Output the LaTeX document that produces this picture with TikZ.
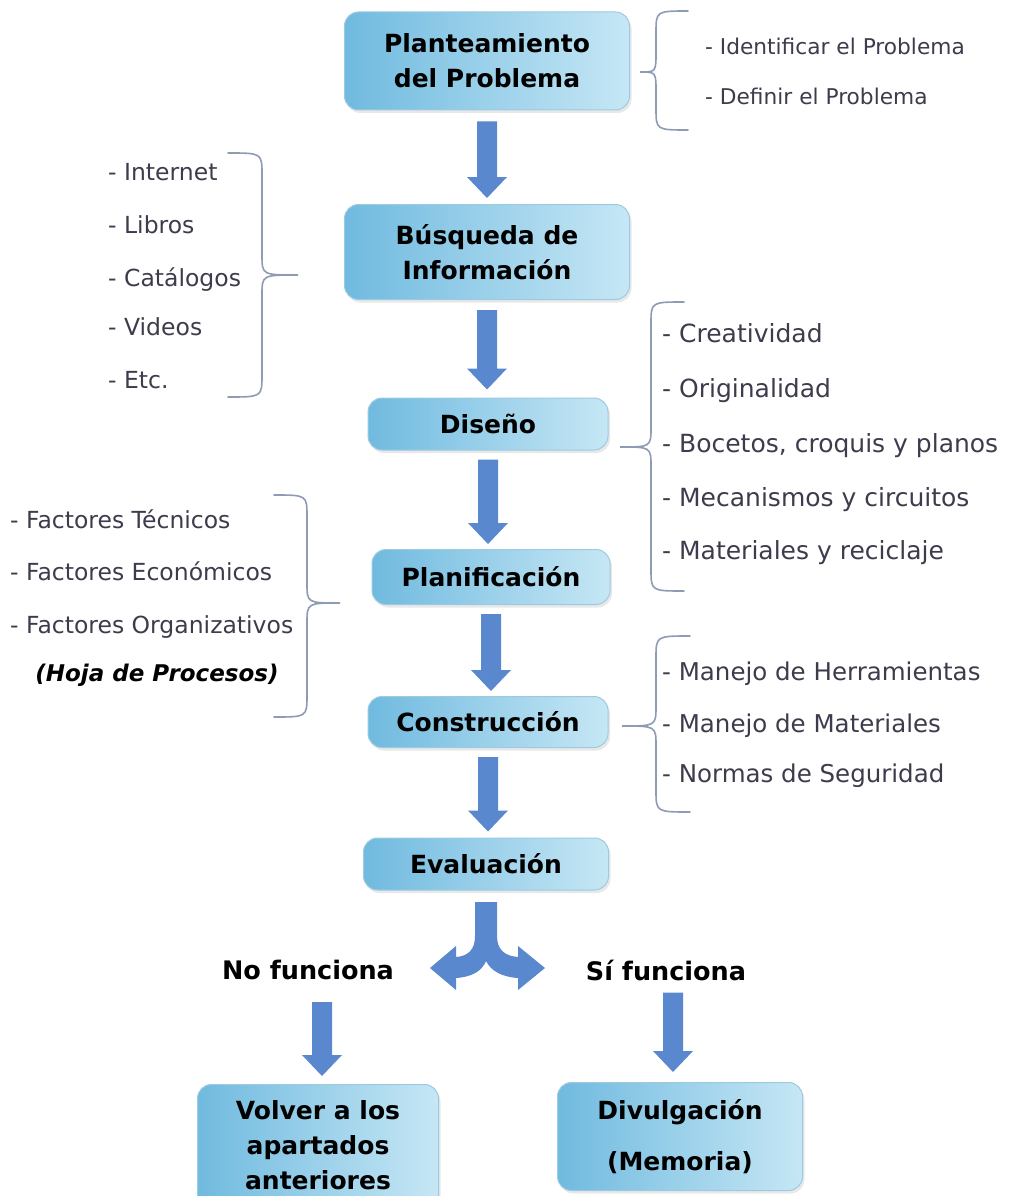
\documentclass[tikz,border=0pt]{standalone}
\usepackage{fontspec}
\setmainfont{DejaVu Sans}
\usetikzlibrary{calc,shadows}
\definecolor{boxL}{HTML}{70BADF}
\definecolor{boxR}{HTML}{C6E7F5}
\definecolor{boxD}{HTML}{9CCBE1}
\definecolor{arrowc}{HTML}{5A88CE}
\definecolor{bracec}{HTML}{8E9BB5}
\definecolor{listc}{HTML}{3E3C4C}
\tikzset{
  stage/.style={rounded corners=14pt, left color=boxL, right color=boxR, draw=boxD,
    line width=1pt, align=center, font=\fontsize{25}{35}\selectfont\bfseries,
    text=black, inner sep=0pt,
    drop shadow={opacity=0.18, shadow xshift=2pt, shadow yshift=-3pt}},
  item/.style={anchor=base west, inner sep=0pt, text=listc},
  brc/.style={draw=bracec, line width=1.6pt, line cap=round},
  blk/.style={fill=arrowc},
  verdict/.style={font=\fontsize{25.5}{30}\selectfont\bfseries, text=black, inner sep=0pt},
}
% brace: tip x, tip y, line x, end x, top y, bottom y
\newcommand\mybrace[6]{%
  \draw[brc] (#4,#5) .. controls (#3,#5) .. (#3,#5+22) -- (#3,#2-20)
    .. controls (#3,#2) .. (#1,#2) .. controls (#3,#2) .. (#3,#2+20)
    -- (#3,#6-22) .. controls (#3,#6) .. (#4,#6);}
% block arrow: from node, to node, gap below from, gap above to
\newcommand\blockarr[4]{%
  \fill[blk] let \p1=($(#1.south)+(0,#3)$), \p2=($(#2.north)+(0,-#4)$) in
    (\x1-10pt,\y1) -- (\x1+10pt,\y1) -- (\x1+10pt,\y2+21pt) -- (\x1+20pt,\y2+21pt)
    -- (\x1,\y2) -- (\x1-20pt,\y2+21pt) -- (\x1-10pt,\y2+21pt) -- cycle;}
\begin{document}
\begin{tikzpicture}[x=1pt,y=-1pt]
\useasboundingbox (0,0) rectangle (1013,1196);
\clip (0,0) rectangle (1013,1196);
\fill[white] (0,0) rectangle (1013,1196);

% stages
\node[stage, minimum width=285pt, minimum height=98pt] (plant) at (487,61) {Planteamiento\\del Problema};
\node[stage, minimum width=285pt, minimum height=95pt] (busq) at (487,252) {Búsqueda de\\Información};
\node[stage, minimum width=240pt, minimum height=52pt] (dis) at (488,424) {Diseño};
\node[stage, minimum width=238pt, minimum height=55pt] (plan) at (491,577) {Planificación};
\node[stage, minimum width=240pt, minimum height=51pt] (cons) at (488,722) {Construcción};
\node[stage, minimum width=245pt, minimum height=52pt] (eval) at (486,864) {Evaluación};
\node[stage, minimum width=241pt, minimum height=125pt, anchor=north] (volver) at (318,1084) {};
\node[verdict, align=center, font=\fontsize{25}{35}\selectfont\bfseries] (voltxt) at (318,1145) {Volver a los\\apartados\\anteriores};
\node[stage, minimum width=245pt, minimum height=108pt, anchor=north] (divul) at (680,1082) {Divulgación\\[16pt](Memoria)};

% verdict labels
\node[verdict] (nof) at (308,970) {No funciona};
\node[verdict] (sif) at (666,970) {Sí funciona};

% arrows
\blockarr{plant}{busq}{11}{6}
\blockarr{busq}{dis}{10}{8}
\blockarr{dis}{plan}{9}{5}
\blockarr{plan}{cons}{9}{5}
\blockarr{cons}{eval}{9}{6}
\fill[blk] let \p1=($(nof.south)+(14,22)$), \p2=($(volver.north)+(0,-8)$) in
    (\x1-10pt,\y1) -- (\x1+10pt,\y1) -- (\x1+10pt,\y2+21pt) -- (\x1+20pt,\y2+21pt)
    -- (\x1,\y2) -- (\x1-20pt,\y2+21pt) -- (\x1-10pt,\y2+21pt) -- cycle;
\fill[blk] let \p1=($(sif.south)+(7,12)$), \p2=($(divul.north)+(0,-10)$) in
    (\x1-10pt,\y1) -- (\x1+10pt,\y1) -- (\x1+10pt,\y2+21pt) -- (\x1+20pt,\y2+21pt)
    -- (\x1,\y2) -- (\x1-20pt,\y2+21pt) -- (\x1-10pt,\y2+21pt) -- cycle;

% split arrow below Evaluación
\coordinate (split) at ($(eval.south)+(0,10)$);
\fill[blk] (475,902) -- (475,936) .. controls (475,950) and (468,956) .. (456,957)
  -- (456,946) -- (430,968) -- (456,990) -- (456,978)
  .. controls (472,977) and (482,971) .. (486,961)
  .. controls (491,971) and (502,977) .. (518,978)
  -- (518,990) -- (545,968) -- (518,946) -- (518,957)
  .. controls (505,956) and (497,950) .. (497,936) -- (497,902) -- cycle;

% braces
\mybrace{640}{72}{656}{688}{11}{130}
\mybrace{298}{275}{262}{228}{153}{397}
\mybrace{620}{447}{651}{684}{302}{591}
\mybrace{340}{603}{307}{274}{495}{717}
\mybrace{622}{726}{656}{690}{636}{812}

% lists
\begin{scope}[every node/.append style={font=\fontsize{21.7}{26}\selectfont}]
\node[item] (i1) at (705,55) {- Identificar el Problema};
\node[item] (i2) at (705,105) {- Definir el Problema};
\end{scope}
\begin{scope}[every node/.append style={font=\fontsize{23.5}{28}\selectfont}]
\node[item] (b1) at (108,180) {- Internet};
\node[item] (b2) at (108,233) {- Libros};
\node[item] (b3) at (108,286) {- Catálogos};
\node[item] (b4) at (108,335) {- Videos};
\node[item] (b5) at (108,388) {- Etc.};
\end{scope}
\begin{scope}[every node/.append style={font=\fontsize{25}{30}\selectfont}]
\node[item] (d1) at (662,342) {- Creatividad};
\node[item] (d2) at (662,397) {- Originalidad};
\node[item] (d3) at (662,452) {- Bocetos, croquis y planos};
\node[item] (d4) at (662,506) {- Mecanismos y circuitos};
\node[item] (d5) at (662,559) {- Materiales y reciclaje};
\end{scope}
\begin{scope}[every node/.append style={font=\fontsize{23.5}{28}\selectfont}]
\node[item] (f1) at (10,528) {- Factores Técnicos};
\node[item] (f2) at (10,580) {- Factores Económicos};
\node[item] (f3) at (10,633) {- Factores Organizativos};
\node[inner sep=0pt, text=black, font=\fontsize{23}{28}\selectfont\bfseries\itshape] (hoja) at (157,675) {(Hoja de Procesos)};
\end{scope}
\begin{scope}[every node/.append style={font=\fontsize{24.5}{29}\selectfont}]
\node[item] (c1) at (662,680) {- Manejo de Herramientas};
\node[item] (c2) at (662,732) {- Manejo de Materiales};
\node[item] (c3) at (662,782) {- Normas de Seguridad};
\end{scope}
\end{tikzpicture}
\end{document}
